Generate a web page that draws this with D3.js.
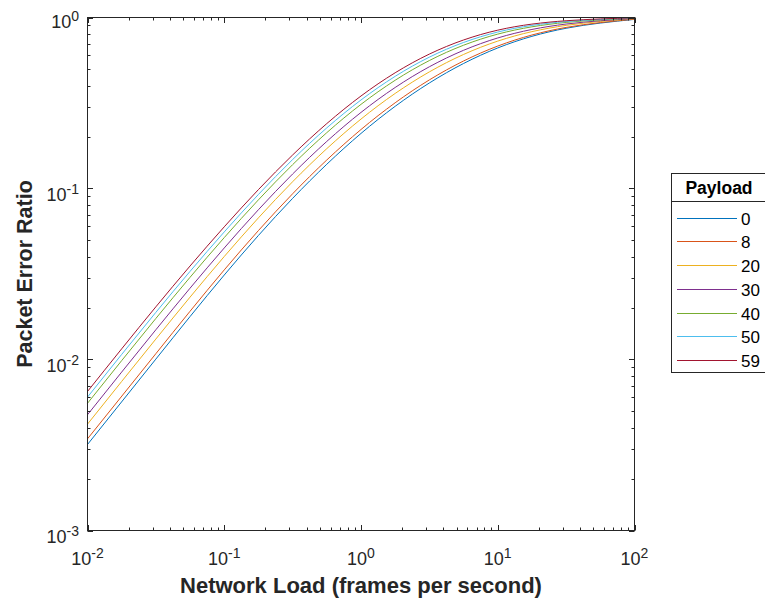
<!DOCTYPE html>
<html><head><meta charset="utf-8">
<script src="https://cdn.jsdelivr.net/npm/d3@7"></script>
<style>
html,body{margin:0;padding:0;background:#fff;}
svg{display:block;font-family:"Liberation Sans",Arial,Helvetica,sans-serif;}
</style></head>
<body><svg id="c" width="765" height="605"></svg>
<script>
// Network load grid (frames per second)
const loads = [0.01, 0.0316, 0.1, 0.316, 1, 3.16, 10, 31.6, 100];
// Packet error ratio per payload
const payloads = ["0", "8", "20", "30", "40", "50", "59"];
const per0  = [0.003184, 0.01005, 0.03119, 0.0875, 0.2099, 0.4140, 0.6637, 0.8650, 0.9750];
const per8  = [0.003436, 0.01081, 0.03342, 0.0931, 0.2213, 0.4315, 0.6808, 0.8750, 0.9772];
const per20 = [0.004188, 0.01317, 0.04002, 0.1095, 0.2547, 0.4807, 0.7277, 0.8993, 0.9829];
const per30 = [0.004752, 0.01492, 0.04490, 0.1215, 0.2786, 0.5150, 0.7592, 0.9157, 0.9863];
const per40 = [0.005545, 0.01737, 0.05164, 0.1378, 0.3105, 0.5601, 0.7995, 0.9359, 0.9908];
const per50 = [0.006027, 0.01886, 0.05572, 0.1476, 0.3294, 0.5862, 0.8222, 0.9469, 0.9931];
const per59 = [0.006501, 0.02032, 0.05970, 0.1570, 0.3475, 0.6109, 0.8433, 0.9572, 0.9954];
const series = [per0, per8, per20, per30, per40, per50, per59];
const colors = ["#0072BD", "#D95319", "#EDB120", "#7E2F8E", "#77AC30", "#4DBEEE", "#A2142F"];
const xTicks = [0.01, 0.1, 1, 10, 100];
const xTickExp = ["-2", "-1", "0", "1", "2"];
const yTicks = [0.001, 0.01, 0.1, 1];
const yTickExp = ["-3", "-2", "-1", "0"];

const svg = d3.select("#c");
const L = 87.5, R = 634.5, T = 17.5, B = 530.5;
const x = d3.scaleLog().domain([0.01, 100]).range([L, R]);
const y = d3.scaleLog().domain([0.001, 1]).range([B, T]);
const ink = "#262626";

// curves
const line = d3.line().x((d, i) => x(loads[i])).y(d => y(d)).curve(d3.curveNatural);
const g = svg.append("g");
series.forEach((s, k) => {
  g.append("path").attr("d", line(s)).attr("fill", "none")
    .attr("stroke", colors[k]).attr("stroke-width", 1);
});

// box
svg.append("rect").attr("x", L).attr("y", T).attr("width", R - L).attr("height", B - T)
  .attr("fill", "none").attr("stroke", ink).attr("stroke-width", 1);

// minor/major ticks
function minors(dom) {
  const out = [];
  for (let e = Math.log10(dom[0]); e < Math.log10(dom[1]) - 1e-9; e++)
    for (let m = 2; m <= 9; m++) out.push(m * Math.pow(10, e));
  return out;
}
const tk = svg.append("g").attr("stroke", ink).attr("stroke-width", 1);
minors(x.domain()).forEach(v => {
  const px = Math.round(x(v)) + 0.5;
  tk.append("line").attr("x1", px).attr("x2", px).attr("y1", B).attr("y2", B - 3);
  tk.append("line").attr("x1", px).attr("x2", px).attr("y1", T).attr("y2", T + 3);
});
xTicks.forEach(v => {
  const px = Math.round(x(v)) + 0.5;
  tk.append("line").attr("x1", px).attr("x2", px).attr("y1", B).attr("y2", B - 5.5);
  tk.append("line").attr("x1", px).attr("x2", px).attr("y1", T).attr("y2", T + 5.5);
});
minors(y.domain()).forEach(v => {
  const py = Math.round(y(v)) + 0.5;
  tk.append("line").attr("y1", py).attr("y2", py).attr("x1", L).attr("x2", L + 3);
  tk.append("line").attr("y1", py).attr("y2", py).attr("x1", R).attr("x2", R - 3);
});
yTicks.forEach(v => {
  const py = Math.round(y(v)) + 0.5;
  tk.append("line").attr("y1", py).attr("y2", py).attr("x1", L).attr("x2", L + 5.5);
  tk.append("line").attr("y1", py).attr("y2", py).attr("x1", R).attr("x2", R - 5.5);
});

// tick labels
xTicks.forEach((v, i) => {
  const t = svg.append("text").attr("x", x(v)).attr("y", 565).attr("text-anchor", "middle")
    .attr("fill", ink).attr("font-size", 18);
  t.append("tspan").text("10");
  t.append("tspan").attr("dy", -7).attr("font-size", 14).text(xTickExp[i]);
});
yTicks.forEach((v, i) => {
  const t = svg.append("text").attr("x", 79).attr("y", y(v) + (v === 1 ? 10 : 12))
    .attr("text-anchor", "end").attr("fill", ink).attr("font-size", 18);
  t.append("tspan").text("10");
  t.append("tspan").attr("dy", -7).attr("font-size", 14).text(yTickExp[i]);
});

// axis titles
svg.append("text").attr("x", (L + R) / 2).attr("y", 593).attr("text-anchor", "middle")
  .attr("font-weight", "bold").attr("font-size", 22).attr("fill", ink)
  .text("Network Load (frames per second)");
svg.append("text").attr("transform", `translate(32,${(T + B) / 2}) rotate(-90)`)
  .attr("text-anchor", "middle").attr("font-weight", "bold").attr("font-size", 21.5).attr("fill", ink)
  .text("Packet Error Ratio");

// legend
const lg = svg.append("g");
lg.append("rect").attr("x", 671.5).attr("y", 173.5).attr("width", 100).attr("height", 199)
  .attr("fill", "#fff").attr("stroke", ink).attr("stroke-width", 1);
lg.append("line").attr("x1", 671.5).attr("x2", 770).attr("y1", 201.5).attr("y2", 201.5)
  .attr("stroke", ink).attr("stroke-width", 1);
lg.append("text").attr("x", 719).attr("y", 194).attr("text-anchor", "middle")
  .attr("font-weight", "bold").attr("font-size", 17.5).attr("fill", "#000").text("Payload");
const ly = d3.scalePoint().domain(payloads).range([217.5, 360]);
payloads.forEach((p, k) => {
  lg.append("line").attr("x1", 677).attr("x2", 737).attr("y1", Math.round(ly(p)) + 0.5).attr("y2", Math.round(ly(p)) + 0.5)
    .attr("stroke", colors[k]).attr("stroke-width", 1);
  lg.append("text").attr("x", 741).attr("y", ly(p) + 7).attr("font-size", 17).attr("fill", "#000").text(p);
});
</script></body></html>
